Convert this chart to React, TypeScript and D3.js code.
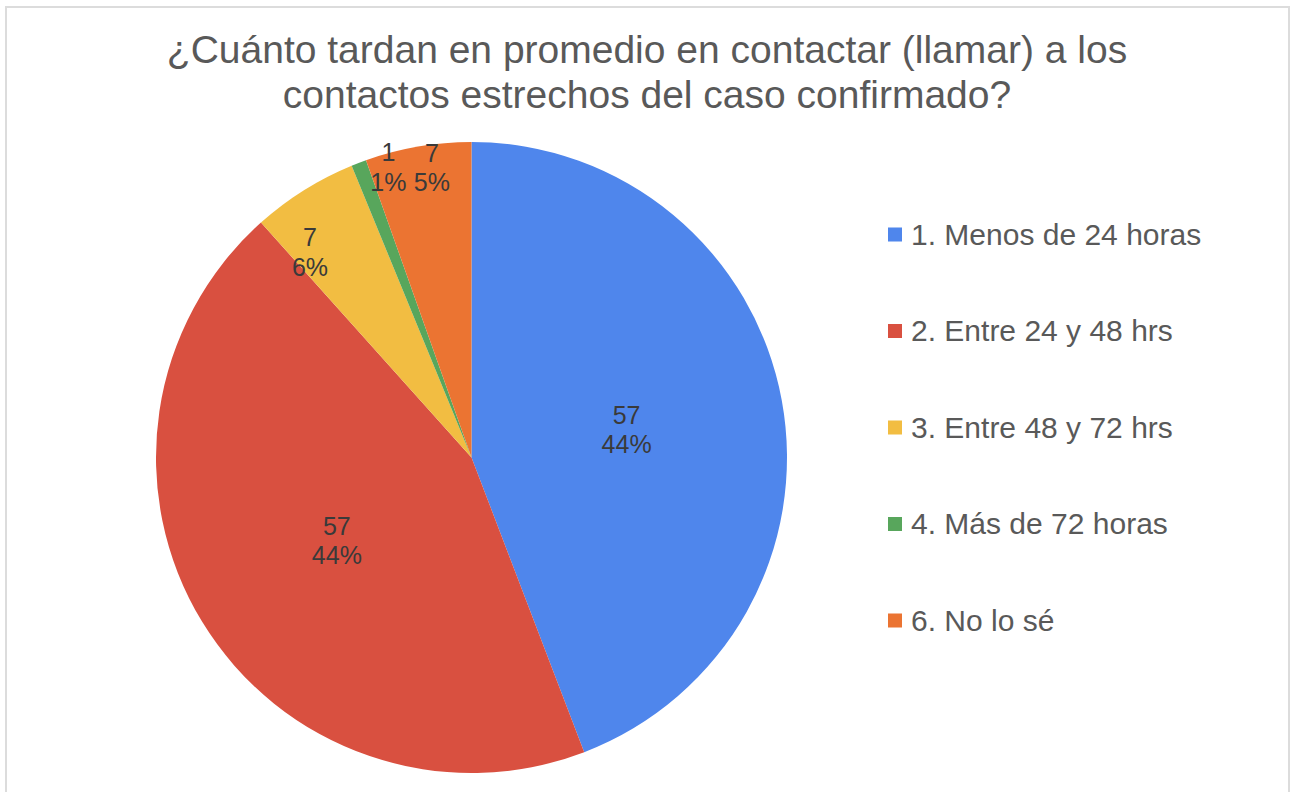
import React from 'react';
import * as d3 from 'd3';

const title = [
  '¿Cuánto tardan en promedio en contactar (llamar) a los',
  'contactos estrechos del caso confirmado?',
];
const categories = [
  '1. Menos de 24 horas',
  '2. Entre 24 y 48 hrs',
  '3. Entre 48 y 72 hrs',
  '4. Más de 72 horas',
  '6. No lo sé',
];
const counts = [57, 57, 7, 1, 7];
const percentLabels = ['44%', '44%', '6%', '1%', '5%'];
const colors = ['#4f86ec', '#d95040', '#f2bd42', '#58a65c', '#eb7432'];

// where each data label sits: fraction of the radius, and a nudge in degrees
const labelRadius = [0.5, 0.5, 0.83, 0.96, 0.93];
const labelNudge = [0, 0, -6, 5, 2];

const W = 1290;
const H = 792;
const cx = 471.5;
const cy = 457.5;
const R = 315.5;
const FONT = '"Liberation Sans", Arial, Helvetica, sans-serif';

const App = () => {
  const pie = d3.pie<number>().sort(null).value(d => d);
  const arcs = pie(counts);
  const arc = d3.arc<d3.PieArcDatum<number>>().innerRadius(0).outerRadius(R);

  const legendY = d3.scalePoint<string>()
    .domain(categories)
    .range([234.5, 620.5]);

  return (
    <svg
      width={W}
      height={H}
      style={{ position: 'absolute', left: 0, top: 0, background: '#fff' }}
      fontFamily={FONT}
    >
      <rect x={6} y={7} width={1283} height={H + 10} fill="#fff" stroke="#dcdcdc" strokeWidth={2} />

      {title.map((t, i) => (
        <text key={i} x={647} y={63 + i * 45} textAnchor="middle" fontSize={39} fill="#595959">
          {t}
        </text>
      ))}

      <g transform={`translate(${cx},${cy})`}>
        {arcs.map((a, i) => (
          <path key={i} d={arc(a) || ''} fill={colors[i]} />
        ))}
        {arcs.map((a, i) => {
          const mid = (a.startAngle + a.endAngle) / 2 + (labelNudge[i] * Math.PI) / 180;
          const r = R * labelRadius[i];
          const x = Math.sin(mid) * r;
          const y = -Math.cos(mid) * r;
          return (
            <text key={i} x={x} y={y} textAnchor="middle" fontSize={25} fill="#3a3a3a">
              <tspan x={x} dy={-5}>{counts[i]}</tspan>
              <tspan x={x} dy={29.5}>{percentLabels[i]}</tspan>
            </text>
          );
        })}
      </g>

      <g>
        {categories.map((c, i) => {
          const y = legendY(c) as number;
          return (
            <g key={c}>
              <rect x={888} y={y - 7} width={14} height={14} fill={colors[i]} />
              <text x={911} y={y + 10} fontSize={30} fill="#595959">{c}</text>
            </g>
          );
        })}
      </g>
    </svg>
  );
};

export default App;
